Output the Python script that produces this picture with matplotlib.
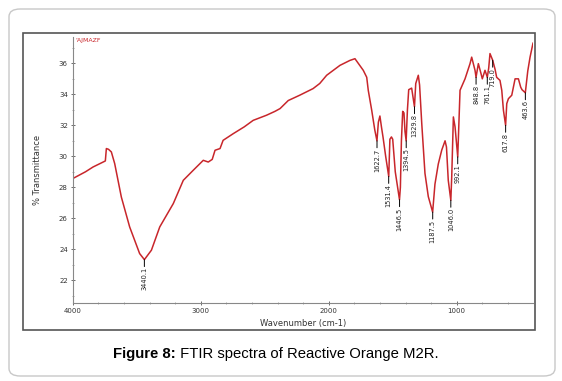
import matplotlib
matplotlib.use("Agg")
import matplotlib.pyplot as plt
from matplotlib.patches import FancyBboxPatch, Rectangle
from matplotlib.ticker import MultipleLocator

# ---- data ----
wavenumber = [4000, 3900, 3841, 3762, 3745, 3737, 3720, 3698, 3672, 3620, 3555, 3477,
              3440, 3385, 3320, 3214, 3136, 3058, 2980, 2941, 2910, 2888, 2849, 2825,
              2746, 2660, 2590, 2486, 2420, 2380, 2316, 2227, 2122, 2070, 2016, 1912,
              1834, 1795, 1730, 1703, 1691, 1664, 1640, 1623, 1612, 1600, 1588, 1575,
              1555, 1531, 1522, 1510, 1500, 1480, 1447, 1440, 1432, 1422, 1412, 1404,
              1395, 1385, 1375, 1352, 1330, 1320, 1300, 1290, 1273, 1248, 1222, 1188,
              1170, 1144, 1117, 1091, 1080, 1066, 1046, 1039, 1026, 1013, 992, 974,
              935, 896, 883, 857, 849, 831, 810, 800, 779, 761, 750, 740, 719, 700,
              688, 662, 648, 635, 618, 609, 596, 570, 544, 518, 500, 490, 464, 445,
              427, 404]
transmittance = [28.56, 29.0, 29.31, 29.63, 29.7, 30.5, 30.45, 30.28, 29.53, 27.37, 25.44, 23.72,
                 23.33, 23.94, 25.44, 26.95, 28.45, 29.1, 29.74, 29.63, 29.8, 30.39, 30.5, 31.03,
                 31.46, 31.9, 32.32, 32.65, 32.9, 33.08, 33.6, 33.94, 34.37, 34.7, 35.23, 35.87,
                 36.19, 36.3, 35.55, 35.1, 34.26, 32.97, 31.7, 31.0, 32.2, 32.6, 31.9, 31.2,
                 30.0, 28.7, 31.1, 31.25, 31.1, 29.0, 27.2, 28.0, 31.0, 32.9, 32.8, 31.6,
                 31.0, 33.0, 34.3, 34.4, 33.2, 34.7, 35.23, 34.6, 32.1, 28.9, 27.4, 26.4,
                 28.2, 29.5, 30.4, 31.0, 30.6, 28.45, 27.16, 28.66, 32.54, 31.9, 29.96, 34.26,
                 35.0, 35.98, 36.4, 35.55, 35.1, 35.98, 35.33, 35.0, 35.55, 35.1, 35.7, 36.63,
                 36.2, 35.6, 35.1, 34.9, 34.26, 32.97, 32.0, 33.4, 33.72, 33.94, 35.0, 35.0,
                 34.46, 34.3, 34.1, 35.5, 36.4, 37.3]

peak_wn = [3440.1, 1622.7, 1531.4, 1446.5, 1394.5, 1329.8, 1187.5, 1046.0, 992.1,
           848.8, 761.1, 719.0, 617.8, 463.6]
peak_labels = ["3440.1", "1622.7", "1531.4", "1446.5", "1394.5", "1329.8", "1187.5",
               "1046.0", "992.1", "848.8", "761.1", "719.0", "617.8", "463.6"]
peak_T = [23.33, 31.0, 28.7, 27.2, 31.0, 33.2, 26.4, 27.16, 29.96, 35.1, 35.1, 36.2, 32.0, 34.1]

x_ticks = [4000, 3000, 2000, 1000]
y_ticks = [22, 24, 26, 28, 30, 32, 34, 36]

W, H = 562, 381
fig = plt.figure(figsize=(W / 100, H / 100), dpi=100)
fig.patch.set_facecolor("white")

def fx(px):
    return px / W

def fy(py):
    return 1 - py / H

# outer rounded panel
outer = FancyBboxPatch((fx(9), fy(376)), fx(555) - fx(9), fy(9) - fy(376),
                       boxstyle="round,pad=0,rounding_size=0.02",
                       transform=fig.transFigure, facecolor="none",
                       edgecolor="#c8c8c8", linewidth=1.0, zorder=-5)
fig.patches.append(outer)
# inner spectrum window
inner = Rectangle((fx(23), fy(330)), fx(535) - fx(23), fy(33) - fy(330),
                  transform=fig.transFigure, facecolor="none",
                  edgecolor="#555555", linewidth=1.2, zorder=-4)
fig.patches.append(inner)

ax = fig.add_axes([fx(72.7), fy(302.7), fx(533) - fx(72.7), fy(37) - fy(302.7)])
ax.patch.set_alpha(0)
ax.set_zorder(2)
ax.plot(wavenumber, transmittance, color="#c8262b", linewidth=1.1)
ax.set_xlim(4000, 404)
ax.set_ylim(20.55, 37.7)
ax.set_xticks(x_ticks)
ax.set_yticks(y_ticks)
ax.xaxis.set_minor_locator(MultipleLocator(200))
ax.yaxis.set_minor_locator(MultipleLocator(1))
ax.tick_params(axis="both", which="major", labelsize=5, direction="inout",
               length=3, width=0.6, color="#555555", labelcolor="#333333", pad=2)
ax.tick_params(axis="both", which="minor", direction="inout", length=2,
               width=0.5, color="#888888")
for s in ["top", "right"]:
    ax.spines[s].set_visible(False)
for s in ["left", "bottom"]:
    ax.spines[s].set_color("#888888")
    ax.spines[s].set_linewidth(0.8)

ax.set_ylabel("% Transmittance", fontsize=6, color="#333333", labelpad=12)
ax.set_xlabel("Wavenumber (cm-1)", fontsize=6, color="#333333", labelpad=4)

ax.text(0.005, 0.995, "'AJMAZF", transform=ax.transAxes, fontsize=4.5,
        color="#c8262b", ha="left", va="top")

for w, t, lab in zip(peak_wn, peak_T, peak_labels):
    ax.annotate("", xy=(w, t), xytext=(0, -5), textcoords="offset points",
                arrowprops=dict(arrowstyle="-", color="black", lw=0.7,
                                shrinkA=0, shrinkB=0))
    ax.annotate(lab, xy=(w, t), xytext=(0, -5.5), textcoords="offset points",
                rotation=90, fontsize=4.8, ha="center", va="top", color="#222222")

# caption
cap_y = fy(354)
fig.canvas.draw()
renderer = fig.canvas.get_renderer()
t1 = fig.text(0, cap_y, "Figure 8:", fontsize=10.7, fontweight="bold",
              family="Liberation Sans", ha="left", va="center")
t2 = fig.text(0, cap_y, " FTIR spectra of Reactive Orange M2R.", fontsize=10.7,
              family="Liberation Sans", ha="left", va="center")
w1 = t1.get_window_extent(renderer).width
w2 = t2.get_window_extent(renderer).width
start = 276 - (w1 + w2) / 2
t1.set_x(start / W)
t2.set_x((start + w1) / W)

fig.savefig("out.png", dpi=100)
